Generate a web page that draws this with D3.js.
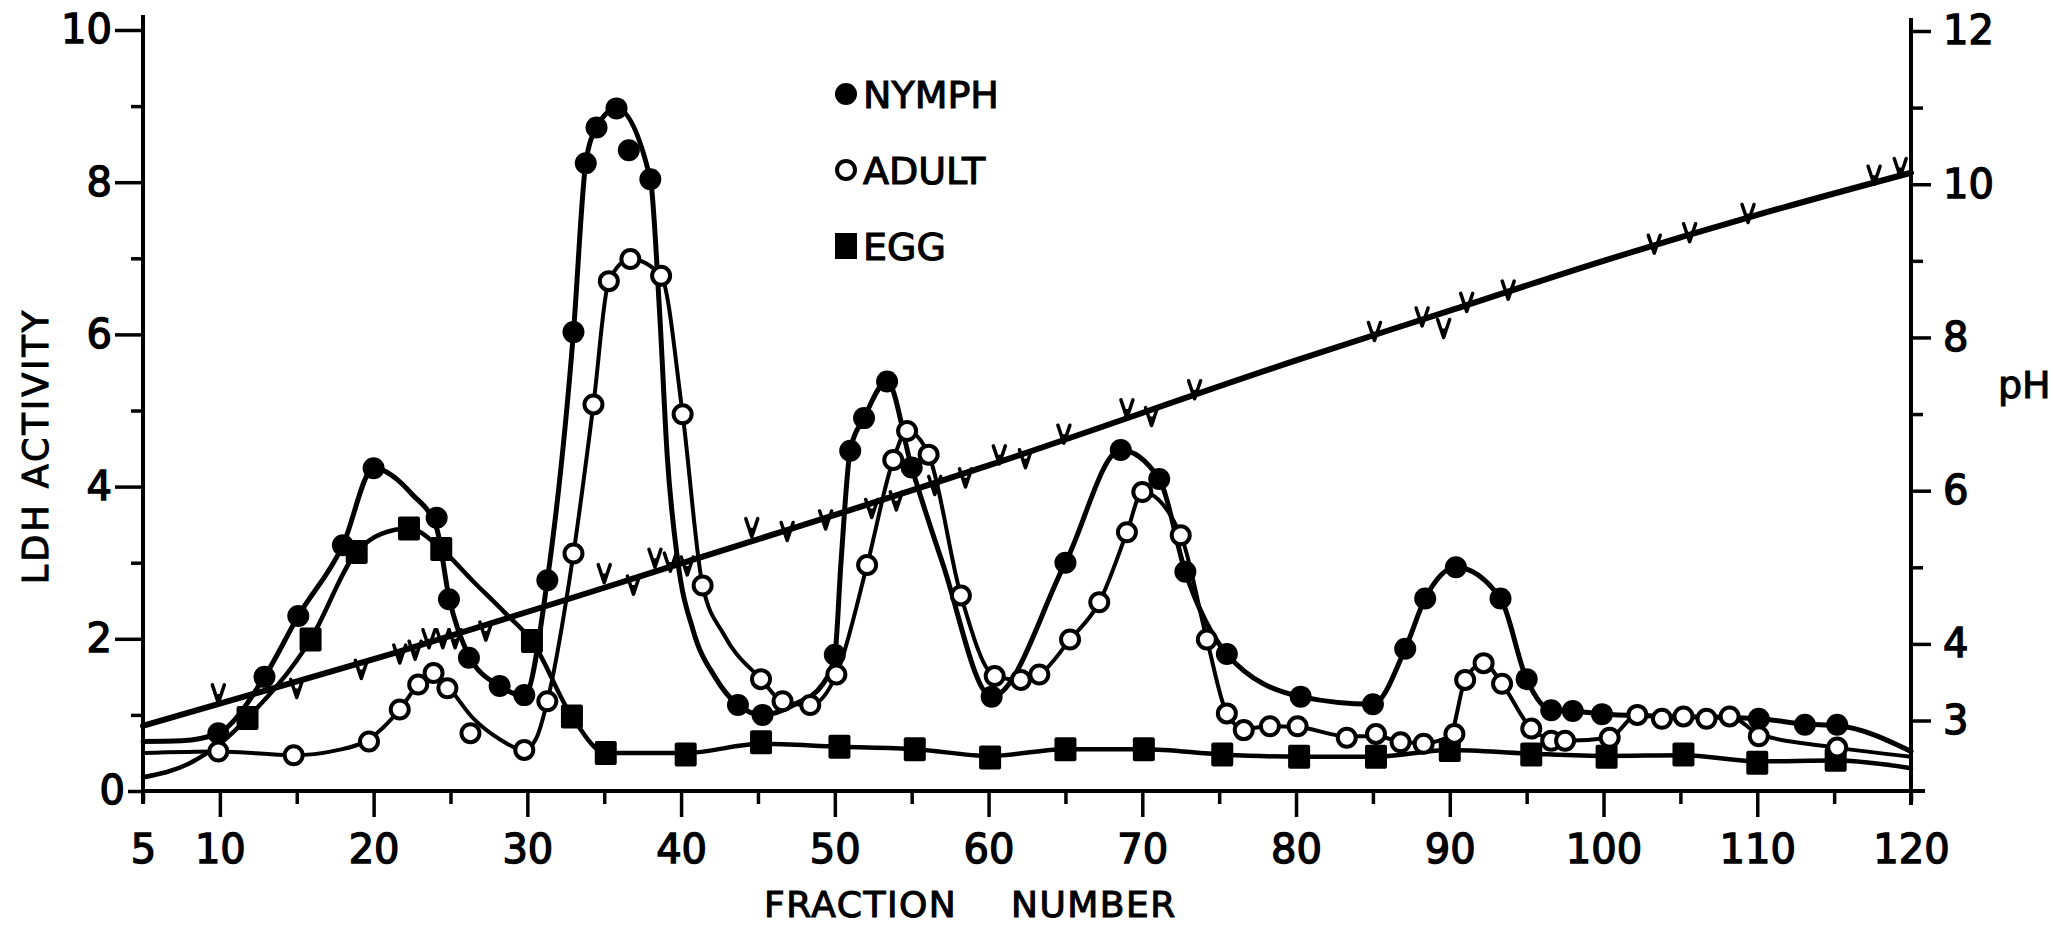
<!DOCTYPE html>
<html>
<head>
<meta charset="utf-8">
<script src="https://cdn.jsdelivr.net/npm/d3@7"></script>
<style>
  html, body { margin: 0; padding: 0; background: #fff; }
  svg { display: block; }
  text { font-family: "DejaVu Sans", sans-serif; fill: #000; }
</style>
</head>
<body>
<svg id="chart" width="2052" height="925"></svg>
<script>
// LDH activity (left axis) and pH gradient (right axis) per fraction number.

// Filled circles: nymph extract [fraction, LDH activity]
const nymphPoints = [
  [9.9,0.76],[12.9,1.50],[15.1,2.30],[18.0,3.23],[20.0,4.24],[24.1,3.59],[24.9,2.52],
  [26.2,1.75],[28.2,1.38],[29.8,1.26],[31.3,2.77],[33.0,6.03],[33.8,8.25],[34.5,8.72],
  [35.8,8.97],[36.6,8.42],[38.0,8.04],[43.7,1.13],[45.3,1.00],[50.0,1.79],[51.0,4.47],
  [51.9,4.90],[53.4,5.38],[55.0,4.25],[60.2,1.24],[65.0,3.00],[68.6,4.48],[71.1,4.10],
  [72.8,2.88],[75.5,1.80],[80.3,1.24],[85.0,1.14],[87.1,1.87],[88.4,2.53],[90.4,2.94],
  [93.3,2.53],[95.0,1.47],[96.6,1.06],[98.0,1.05],[99.9,1.01],[110.1,0.95],[113.1,0.87],
  [115.2,0.87]
];
// Hand-fitted curve through the nymph profile
const nymphCurve = [
  [5,0.65],[7.5,0.66],[9.9,0.76],[12.9,1.50],[15.1,2.30],[18.0,3.23],[20.0,4.24],[22.5,3.90],
  [24.1,3.45],[24.9,2.55],[26.2,1.78],[28.2,1.38],[29.8,1.25],[31.3,2.77],[33.0,6.03],
  [33.8,8.25],[34.5,8.72],[35.8,8.97],[38.0,8.04],[38.6,6.30],[39.1,4.40],[39.8,3.00],
  [40.8,2.10],[42.2,1.50],[43.7,1.13],[45.3,1.00],[47.5,1.15],[49.2,1.40],[50.0,1.79],
  [50.4,3.00],[51.0,4.47],[51.9,4.90],[53.4,5.38],[55.0,4.25],[57.0,3.00],[60.2,1.24],
  [65.0,3.00],[68.6,4.48],[71.1,4.10],[72.8,2.88],[75.5,1.80],[80.3,1.24],[85.0,1.14],
  [87.1,1.87],[88.4,2.53],[90.4,2.94],[93.3,2.53],[95.0,1.47],[96.6,1.06],[98.0,1.05],
  [100.0,1.01],[110.1,0.95],[113.1,0.88],[115.2,0.86],[120,0.52]
];

// Open circles: adult extract
const adultPoints = [
  [9.9,0.52],[14.8,0.47],[19.7,0.65],[21.7,1.07],[22.9,1.40],[23.9,1.55],[24.8,1.35],
  [26.3,0.76],[29.8,0.54],[31.3,1.18],[33.0,3.12],[34.3,5.08],[35.3,6.70],[36.7,6.99],
  [38.7,6.77],[40.1,4.95],[41.4,2.70],[45.2,1.47],[46.6,1.18],[48.4,1.13],[50.1,1.53],
  [52.1,2.97],[53.8,4.35],[54.7,4.73],[56.1,4.42],[58.2,2.57],[60.4,1.51],[62.1,1.46],
  [63.3,1.53],[65.3,1.99],[67.2,2.48],[69.0,3.40],[70.0,3.93],[72.5,3.36],[74.2,1.99],
  [75.5,1.02],[76.6,0.80],[78.3,0.85],[80.1,0.85],[83.3,0.70],[85.2,0.75],[86.8,0.64],
  [88.3,0.62],[90.3,0.75],[91.0,1.46],[92.2,1.68],[93.4,1.41],[95.3,0.82],[96.6,0.66],
  [97.5,0.66],[100.4,0.70],[102.2,1.00],[103.8,0.95],[105.2,0.98],[106.7,0.95],[108.2,0.98],
  [110.1,0.72],[115.2,0.57]
];
const adultCurve = [
  [5,0.50],[9.9,0.52],[14.8,0.47],[17.5,0.53],[19.7,0.68],[21.7,1.07],[22.9,1.40],[23.9,1.55],
  [24.8,1.38],[26.5,0.95],[28.2,0.68],[29.8,0.54],[30.6,0.70],[31.3,1.18],[33.0,3.12],
  [34.3,5.08],[35.3,6.70],[36.7,6.99],[38.7,6.77],[40.1,4.95],[41.4,2.70],[42.8,2.05],
  [45.2,1.47],[46.6,1.18],[48.4,1.13],[50.1,1.53],[52.1,2.97],[53.8,4.35],[54.7,4.73],
  [56.1,4.42],[58.2,2.57],[60.4,1.51],[62.1,1.46],[63.3,1.53],[65.3,1.99],[67.2,2.48],
  [69.0,3.40],[70.0,3.93],[72.5,3.36],[74.2,1.99],[75.5,1.02],[76.6,0.82],[78.3,0.85],
  [80.1,0.84],[83.3,0.72],[85.2,0.72],[86.8,0.65],[88.3,0.63],[90.0,0.72],[91.0,1.46],
  [92.2,1.68],[93.4,1.41],[95.3,0.82],[96.6,0.68],[97.5,0.66],[100.4,0.70],[102.2,1.00],
  [104.0,0.97],[106.0,0.97],[108.2,0.98],[110.1,0.75],[115.2,0.57],[120,0.45]
];

// Filled squares: egg extract
const eggPoints = [
  [11.8,0.96],[15.9,1.99],[18.9,3.14],[22.3,3.45],[24.4,3.18],[30.3,1.97],[32.9,0.98],
  [35.1,0.50],[40.3,0.48],[45.2,0.64],[50.3,0.58],[55.2,0.55],[60.1,0.44],[65.0,0.55],
  [70.1,0.55],[75.2,0.48],[80.2,0.45],[85.2,0.45],[90.0,0.54],[95.3,0.48],[100.2,0.45],
  [105.2,0.48],[110.0,0.37],[115.1,0.41]
];
const eggCurve = [
  [5,0.18],[8,0.36],[10,0.62],[11.8,0.96],[15.9,1.99],[18.9,3.14],[20.5,3.38],[22.3,3.45],
  [24.4,3.18],[26.5,2.75],[28.5,2.35],[30.3,1.97],[32.9,0.98],[35.1,0.50],[40.3,0.50],
  [45.2,0.62],[50.3,0.58],[55.2,0.55],[60.1,0.46],[65.0,0.55],[70.1,0.55],[75.2,0.48],
  [80.2,0.45],[85.2,0.45],[90.0,0.54],[95.3,0.49],[100.2,0.46],[105.2,0.47],[110.0,0.39],
  [115.1,0.40],[120,0.30]
];

// pH gradient line and individual pH readings [fraction, pH]
const pHLine = [
  [5,2.93],[20,3.80],[40,5.05],[60,6.33],[80,7.70],[90,8.35],[100,9.00],[110,9.60],[120,10.15]
];
const pHReadings = [
  [9.9,3.23],[15.0,3.30],[19.2,3.55],[21.7,3.75],[22.7,3.80],[23.6,3.95],[24.5,3.95],
  [25.3,3.95],[27.3,4.05],[35.0,4.80],[36.9,4.65],[38.3,5.00],[39.3,4.95],[40.4,4.90],
  [44.6,5.40],[46.9,5.35],[49.4,5.50],[52.4,5.65],[54.0,5.75],[56.5,5.95],[58.5,6.05],
  [60.7,6.35],[62.4,6.30],[64.9,6.62],[69.0,6.95],[70.6,6.85],[73.4,7.20],[85.1,7.96],
  [88.2,8.15],[89.6,8.00],[91.1,8.34],[93.8,8.50],[103.3,9.10],[105.6,9.25],[109.4,9.50],
  [117.6,10.00],[119.3,10.10]
];

// Tick values
const ldhMajorTicks = [2,4,6,8,10];
const ldhMinorTicks = [1,3,5,7,9];
const fractionMajorTicks = [10,20,30,40,50,60,70,80,90,100,110];
const fractionMinorTicks = [15,25,35,45,55,65,75,85,95,105,115];
const fractionLabels = [5,10,20,30,40,50,60,70,80,90,100,110,120];
const pHMajorTicks = [3,4,6,8,10,12];
const pHMinorTicks = [5,7,9,11];

const legendItems = [
  { name: "NYMPH", shape: "filled" },
  { name: "ADULT", shape: "open" },
  { name: "EGG", shape: "square" }
];

const svg = d3.select("#chart");

const x = d3.scaleLinear().domain([5, 120]).range([143, 1911]);
const y = d3.scaleLinear().domain([0, 10]).range([791, 30]);
const yPH = d3.scaleLinear().domain([2.08, 12]).range([791, 31]);

const AXIS_W = 4, TICK_W = 3.5, LABEL_SIZE = 40, TEXT_STROKE = 1.4;

function tidy(g) {
  g.select(".domain").remove();
  g.selectAll(".tick line").attr("stroke", "#000").attr("stroke-width", TICK_W);
  g.selectAll(".tick text")
    .attr("font-size", LABEL_SIZE)
    .attr("fill", "#000")
    .attr("stroke", "#000")
    .attr("stroke-width", TEXT_STROKE)
    .style("font-family", '"DejaVu Sans", sans-serif');
}

// ----- left axis (LDH activity)
const left = svg.append("g").attr("transform", `translate(${x(5)},0)`);
left.append("g").call(d3.axisLeft(y).tickValues(ldhMajorTicks).tickSize(28).tickFormat("")).call(tidy);
left.append("g").call(d3.axisLeft(y).tickValues(ldhMinorTicks).tickSize(12).tickFormat("")).call(tidy);
left.append("g").call(d3.axisLeft(y).tickValues([0]).tickSize(15).tickFormat("")).call(tidy);
left.append("g").call(d3.axisLeft(y).tickValues(ldhMajorTicks).tickSize(0).tickPadding(31)).call(tidy);
left.append("g").call(d3.axisLeft(y).tickValues([0]).tickSize(0).tickPadding(18)).call(tidy);

// ----- bottom axis (fraction number)
const bottom = svg.append("g").attr("transform", `translate(0,${y(0)})`);
bottom.append("g").call(d3.axisBottom(x).tickValues(fractionMajorTicks).tickSize(26).tickFormat("")).call(tidy);
bottom.append("g").call(d3.axisBottom(x).tickValues(fractionMinorTicks).tickSize(13).tickFormat("")).call(tidy);
bottom.append("g").call(d3.axisBottom(x).tickValues([5, 120]).tickSize(11).tickFormat("")).call(tidy);
bottom.append("g").call(d3.axisBottom(x).tickValues(fractionLabels).tickSize(0).tickPadding(44).tickFormat(d3.format("d"))).call(tidy);

// ----- right axis (pH)
const right = svg.append("g").attr("transform", `translate(${x(120)},0)`);
right.append("g").call(d3.axisRight(yPH).tickValues(pHMajorTicks).tickSize(20).tickFormat("")).call(tidy);
right.append("g").call(d3.axisRight(yPH).tickValues(pHMinorTicks).tickSize(12).tickFormat("")).call(tidy);
right.append("g").call(d3.axisRight(yPH).tickValues(pHMajorTicks).tickSize(0).tickPadding(32).tickFormat(d3.format("d"))).call(tidy);

// axis lines
const axisLines = svg.append("g").attr("stroke", "#000").attr("stroke-width", AXIS_W).attr("stroke-linecap", "square");
axisLines.append("line").attr("x1", x(5)).attr("x2", x(5)).attr("y1", y(10) - 13).attr("y2", y(0) + 11);
axisLines.append("line").attr("x1", x(5)).attr("x2", x(120) + 12).attr("y1", y(0)).attr("y2", y(0));
axisLines.append("line").attr("x1", x(120)).attr("x2", x(120)).attr("y1", yPH(12) - 11).attr("y2", y(0) + 12);

// ----- axis titles
svg.append("text")
  .attr("transform", `translate(36,446) rotate(-90)`)
  .attr("text-anchor", "middle")
  .attr("dominant-baseline", "central")
  .attr("font-size", 35)
  .attr("letter-spacing", 3)
  .attr("stroke", "#000").attr("stroke-width", 1.1)
  .text("LDH ACTIVITY");

svg.append("text")
  .attr("x", 764).attr("y", 917)
  .attr("font-size", 36)
  .attr("letter-spacing", 1.5)
  .attr("stroke", "#000").attr("stroke-width", 1.1)
  .text("FRACTION");
svg.append("text")
  .attr("x", 1011).attr("y", 917)
  .attr("font-size", 36)
  .attr("letter-spacing", 1.5)
  .attr("stroke", "#000").attr("stroke-width", 1.1)
  .text("NUMBER");

svg.append("text")
  .attr("x", 1998).attr("y", 398)
  .attr("font-size", 38)
  .attr("stroke", "#000").attr("stroke-width", 1.1)
  .text("pH");

// ----- curves
const ldhLine = d3.line().x(d => x(d[0])).y(d => y(d[1])).curve(d3.curveMonotoneX);
const phPath = d3.line().x(d => x(d[0])).y(d => yPH(d[1])).curve(d3.curveMonotoneX);

const curves = svg.append("g").attr("fill", "none").attr("stroke", "#000")
  .attr("stroke-linejoin", "round").attr("stroke-linecap", "round");
curves.append("path").attr("d", phPath(pHLine)).attr("stroke-width", 6);
curves.append("path").attr("d", ldhLine(eggCurve)).attr("stroke-width", 4.5);
curves.append("path").attr("d", ldhLine(adultCurve)).attr("stroke-width", 4);
curves.append("path").attr("d", ldhLine(nymphCurve)).attr("stroke-width", 5);

// pH readings drawn as small "v" marks whose tip sits at the reading
const marks = svg.append("g");
marks.selectAll("path.v").data(pHReadings).join("path")
  .attr("class", "v")
  .attr("transform", d => `translate(${x(d[0])},${yPH(d[1])})`)
  .attr("d", "M-6,-18 L0,0 L6,-18")
  .attr("fill", "none").attr("stroke", "#000").attr("stroke-width", 3.5)
  .attr("stroke-linejoin", "round").attr("stroke-linecap", "round");
marks.selectAll("path.vt").data(pHReadings).join("path")
  .attr("class", "vt")
  .attr("transform", d => `translate(${x(d[0])},${yPH(d[1])})`)
  .attr("d", "M-3.5,-9 L0,0 L3.5,-9 Z")
  .attr("fill", "#000");

// ----- markers
const SQ_W = 22, SQ_H = 24;
svg.append("g").selectAll("rect").data(eggPoints).join("rect")
  .attr("x", d => x(d[0]) - SQ_W / 2).attr("y", d => y(d[1]) - SQ_H / 2)
  .attr("width", SQ_W).attr("height", SQ_H).attr("rx", 2)
  .attr("fill", "#000");

svg.append("g").selectAll("circle").data(nymphPoints).join("circle")
  .attr("cx", d => x(d[0])).attr("cy", d => y(d[1])).attr("r", 11)
  .attr("fill", "#000");

svg.append("g").selectAll("circle").data(adultPoints).join("circle")
  .attr("cx", d => x(d[0])).attr("cy", d => y(d[1])).attr("r", 9)
  .attr("fill", "#fff").attr("stroke", "#000").attr("stroke-width", 4);

// ----- legend
const legend = svg.append("g").attr("transform", "translate(846,94)");
const rows = legend.selectAll("g").data(legendItems).join("g")
  .attr("transform", (d, i) => `translate(0,${i * 76})`);
rows.each(function (d) {
  const g = d3.select(this);
  if (d.shape === "filled") g.append("circle").attr("r", 11).attr("fill", "#000");
  if (d.shape === "open") g.append("circle").attr("r", 9).attr("fill", "#fff").attr("stroke", "#000").attr("stroke-width", 4);
  if (d.shape === "square") g.append("rect").attr("x", -11).attr("y", -13).attr("width", 22).attr("height", 26).attr("fill", "#000");
});
rows.append("text")
  .attr("x", 17).attr("dy", "0.36em")
  .attr("font-size", 38)
  .attr("stroke", "#000").attr("stroke-width", 1.1)
  .text(d => d.name);
</script>
</body>
</html>
